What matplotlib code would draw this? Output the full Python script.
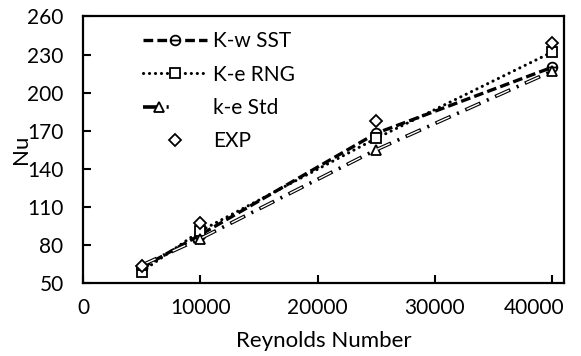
import matplotlib
matplotlib.use("Agg")
import matplotlib.pyplot as plt
from matplotlib.path import Path
from matplotlib.transforms import ScaledTranslation
from matplotlib.legend_handler import HandlerTuple

plt.rcParams['font.family'] = ['Lato', 'DejaVu Sans']
plt.rcParams['lines.scale_dashes'] = False

reynolds = [5000, 10000, 25000, 40000]
nu_sst = [62, 88, 168, 220]
nu_rng = [59, 91, 164, 232]
nu_std = [64, 85, 155, 217]
nu_exp = [63, 97, 178, 239]

xticks = [0, 10000, 20000, 30000, 40000]
yticks = [50, 80, 110, 140, 170, 200, 230, 260]

# circle with a bar through it, like the Excel marker
circ = Path.unit_circle()
bar = Path([[-1, 0], [1, 0]], [Path.MOVETO, Path.LINETO])
circle_bar = Path.make_compound_path(circ, bar)

fig = plt.figure(figsize=(5.81, 3.56), dpi=100)
ax = fig.add_axes([0.1429, 0.2051, 0.8278, 0.7486])

l1, = ax.plot(reynolds, nu_sst, color='black', lw=2.4, dashes=[7, 3],
              marker=circle_bar, ms=7, mfc='white', mec='black', mew=1.3)
l2, = ax.plot(reynolds, nu_rng, color='black', lw=2.2, dashes=[0.1, 4.2],
              dash_capstyle='round', marker='s', ms=7, mfc='white',
              mec='black', mew=1.3)
l3a, = ax.plot(reynolds, nu_std, color='black', lw=2.6,
               dashes=[12, 5, 1.5, 5], marker='^', ms=7, mfc='white',
               mec='black', mew=1.3)
l3b, = ax.plot(reynolds, nu_std, color='white', lw=1.0,
               linestyle=(22.5, (10, 13.5)))
l4, = ax.plot(reynolds, nu_exp, ls='none', marker='D', ms=6.5, mfc='white',
              mec='black', mew=1.3)

ax.set_xlim(0, 41000)
ax.set_ylim(50, 260)
ax.set_xticks(xticks)
ax.set_yticks(yticks)
ax.tick_params(direction='in', length=6, width=1.5, labelsize=15)
ax.tick_params(axis='y', pad=14)
ax.tick_params(axis='x', pad=11)
for s in ax.spines.values():
    s.set_linewidth(1.6)

# last x label pulled inside like Excel does
last = ax.get_xticklabels()[-1]
last.set_horizontalalignment('right')
last.set_transform(last.get_transform() +
                   ScaledTranslation(0.12, 0, fig.dpi_scale_trans))

ax.set_xlabel('Reynolds Number', fontsize=16)
ax.xaxis.set_label_coords(0.5, -0.18)
ax.set_ylabel('Nu', fontsize=16)
ax.yaxis.set_label_coords(-0.108, 0.5)

ax.legend([l1, l2, (l3a, l3b), l4],
          ['K-w SST', 'K-e RNG', 'k-e Std', 'EXP'],
          handler_map={tuple: HandlerTuple(ndivide=None, pad=0)},
          loc='upper left', bbox_to_anchor=(0.125, 0.944), frameon=False,
          borderpad=0, borderaxespad=0,
          fontsize=15, handlelength=3.07, labelspacing=0.64, numpoints=1,
          handletextpad=0.3)

fig.savefig('out.png', dpi=100)
